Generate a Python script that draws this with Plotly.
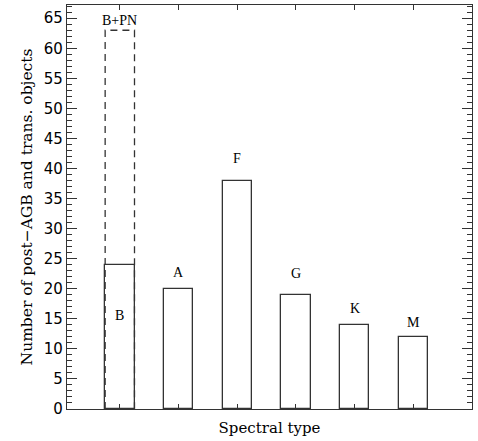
import plotly.graph_objects as go

# ---- data ----
categories = ["B", "A", "F", "G", "K", "M"]
counts = [24, 20, 38, 19, 14, 12]
b_plus_pn = 63
combined_label = "B+PN"
y_ticks = list(range(0, 70, 5))

# ---- styling / layout config ----
bar_width = 0.5
line_col = "#333333"
label_offsets = [-8.5, 2.7, 3.7, 3.6, 2.7, 2.4]   # label centre relative to bar top
combined_offset = 1.7

xpos = list(range(1, len(categories) + 1))

fig = go.Figure()
fig.add_trace(go.Bar(
    x=xpos, y=counts, width=bar_width,
    marker=dict(color="white", line=dict(color=line_col, width=1.3)),
    hoverinfo="skip", showlegend=False,
))

# dashed outline for B+PN, derived from the first category position
bx = xpos[0]
hw = bar_width / 2
fig.add_trace(go.Scatter(
    x=[bx - hw, bx - hw, bx + hw, bx + hw],
    y=[0, b_plus_pn, b_plus_pn, 0],
    mode="lines",
    line=dict(color=line_col, width=1.3, dash="7px,5px"),
    hoverinfo="skip", showlegend=False,
))

serif = "Liberation Serif"
for x, v, c, off in zip(xpos, counts, categories, label_offsets):
    fig.add_annotation(x=x, y=v + off, text=c, showarrow=False,
                       font=dict(family=serif, size=14, color="black"),
                       xanchor="center", yanchor="middle")
fig.add_annotation(x=bx, y=b_plus_pn + combined_offset, text=combined_label,
                   showarrow=False, font=dict(family=serif, size=14, color="black"),
                   xanchor="center", yanchor="middle")

axis_font = "DejaVu Serif"
fig.update_layout(
    width=478, height=441,
    margin=dict(l=67, r=6, t=5, b=32),
    paper_bgcolor="white", plot_bgcolor="white",
    bargap=0,
    xaxis=dict(
        range=[0.1, 7.0], tickvals=xpos, showticklabels=False,
        ticks="inside", ticklen=5, tickcolor=line_col, tickwidth=1,
        showline=True, linecolor=line_col, linewidth=1.3, mirror="ticks",
        showgrid=False, zeroline=False, automargin=False,
        title=dict(text="Spectral type", standoff=13,
                   font=dict(family=axis_font, size=15, color="black")),
    ),
    yaxis=dict(
        range=[0, 67.2], tickvals=y_ticks,
        ticks="inside", ticklen=10, tickcolor=line_col, tickwidth=1,
        minor=dict(dtick=1, ticks="inside", ticklen=5, tickcolor=line_col, tickwidth=1),
        showline=True, linecolor=line_col, linewidth=1.3, mirror="ticks",
        showgrid=False, zeroline=False, automargin=False,
        tickfont=dict(family="DejaVu Sans", size=15, color="black"),
        title=dict(text="Number of post\u2212AGB and trans. objects", standoff=7,
                   font=dict(family=axis_font, size=15.5, color="black")),
    ),
)

fig.write_html("out.html", config={"displayModeBar": False},
               post_script="document.body.style.margin='0';document.body.style.overflow='hidden';")
